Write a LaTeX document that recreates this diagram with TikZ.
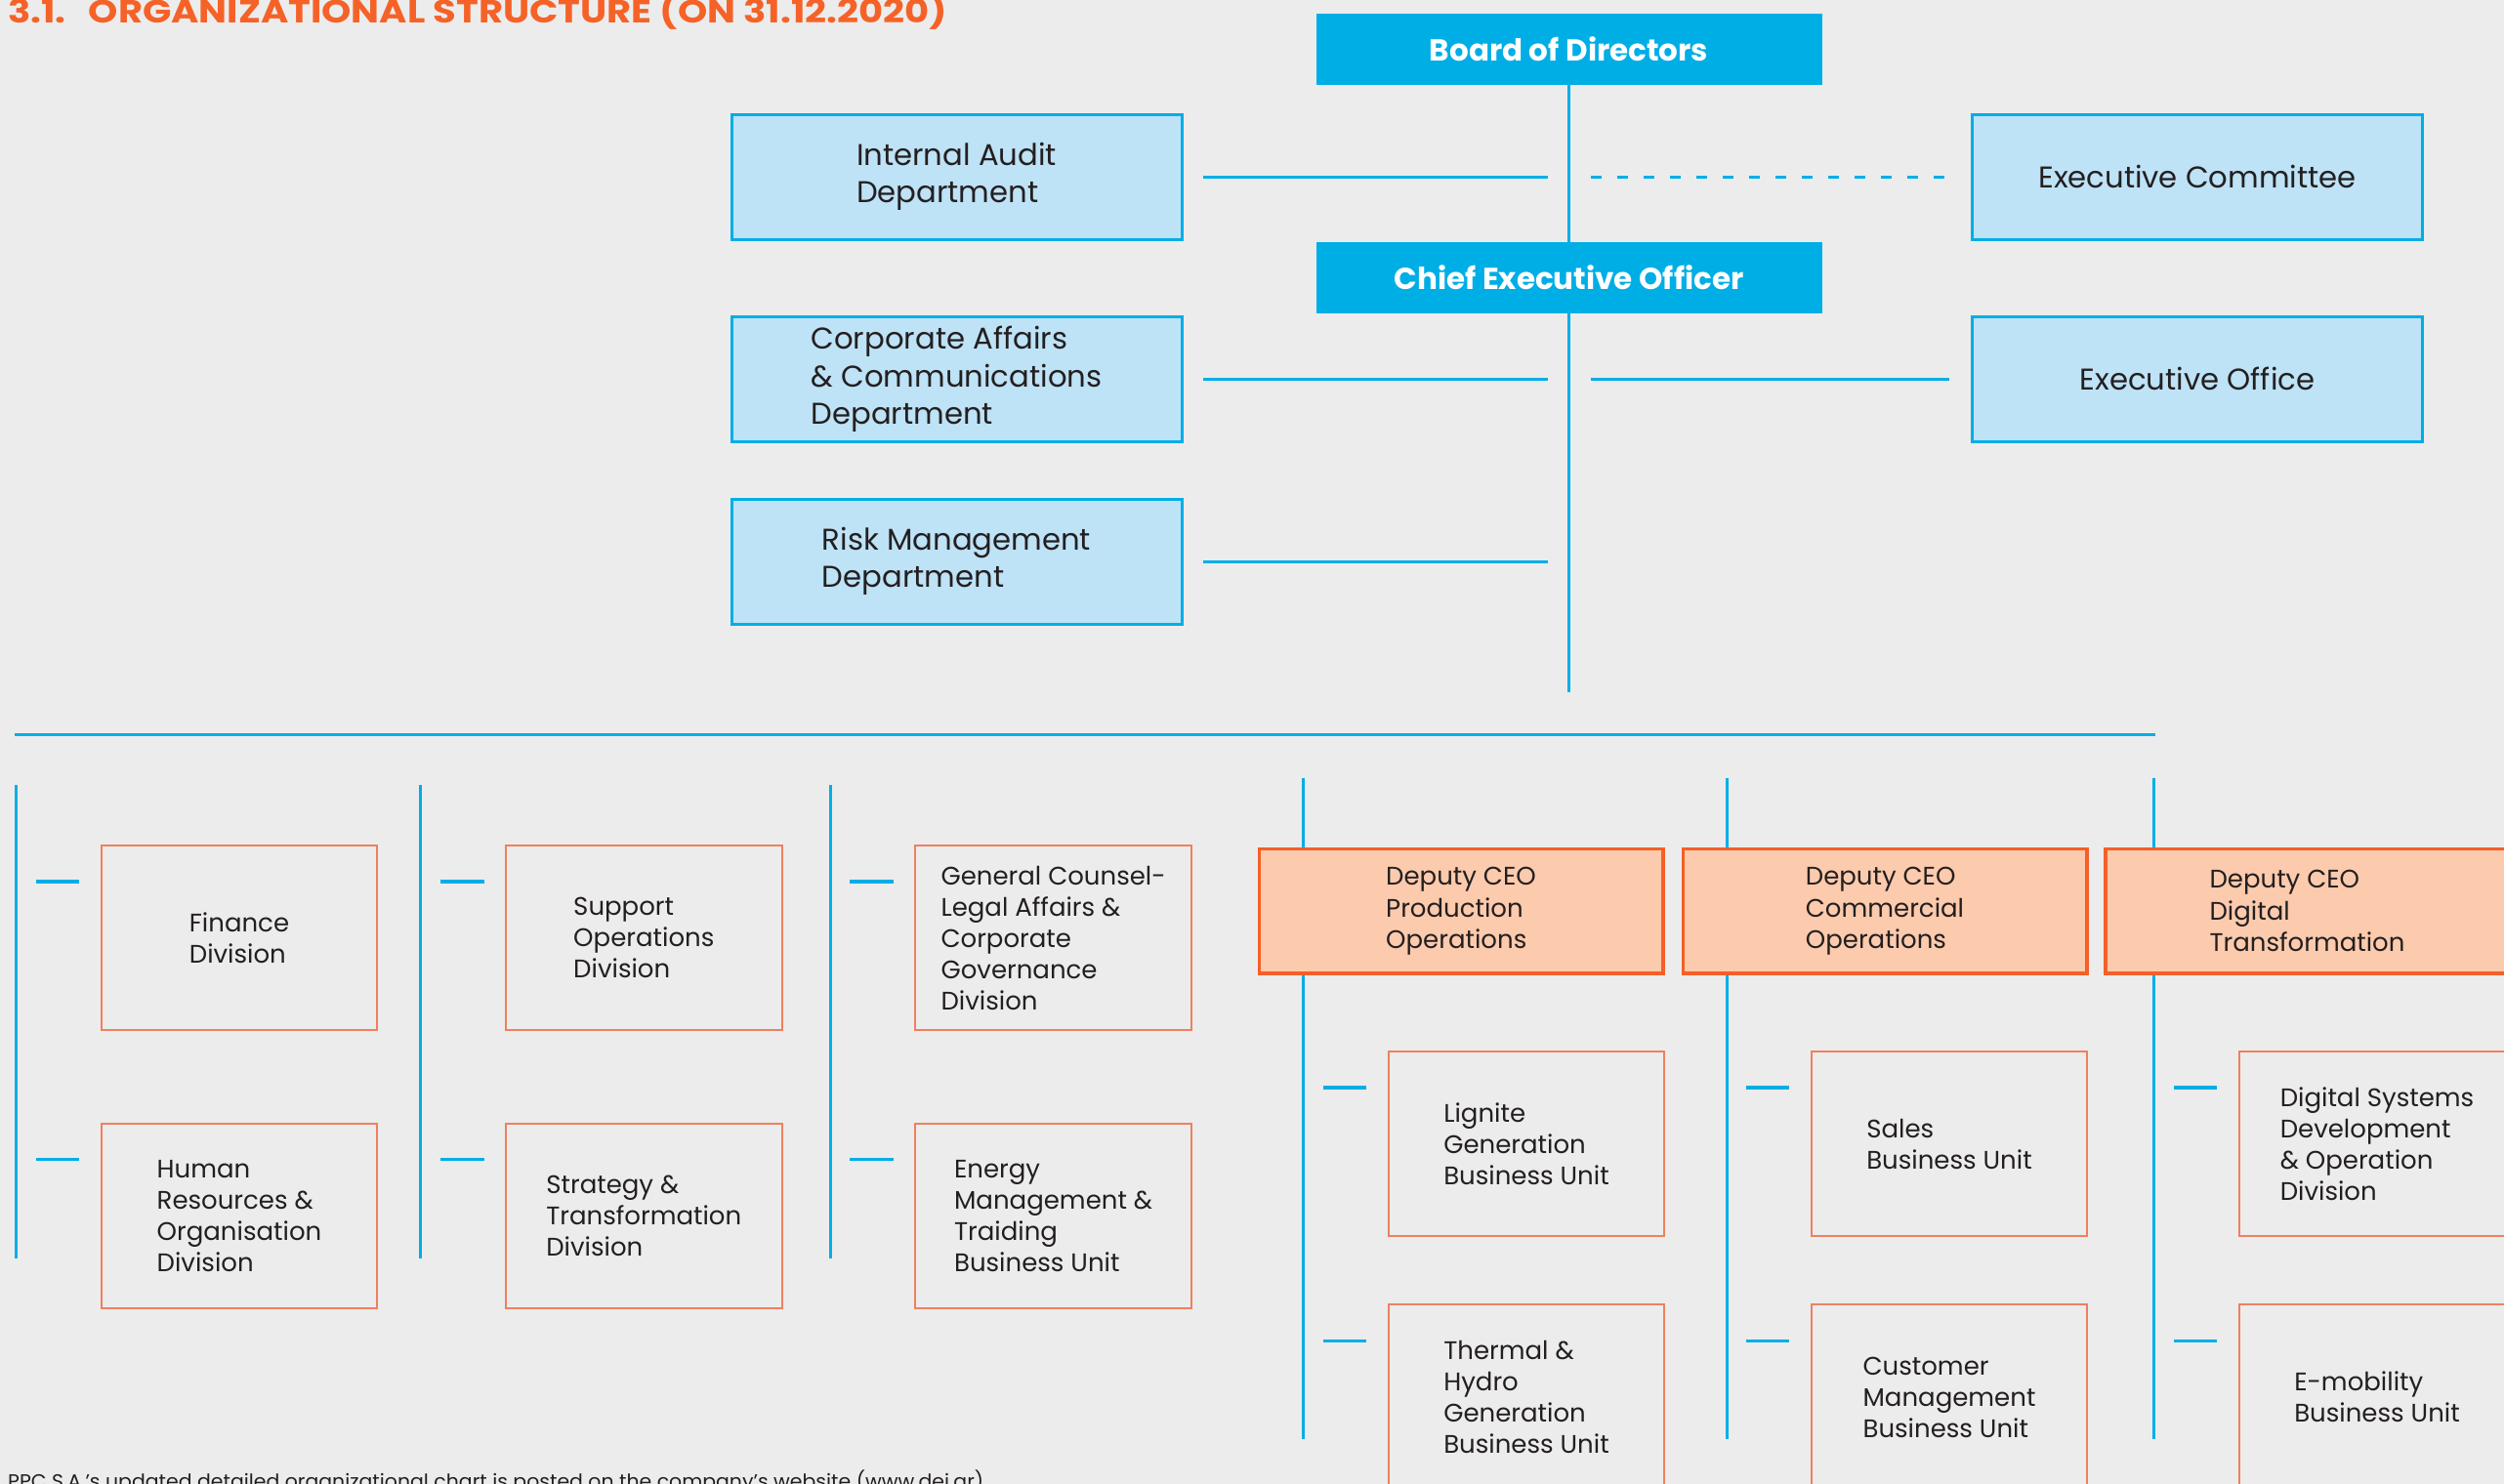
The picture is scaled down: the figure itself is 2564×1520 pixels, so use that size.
\documentclass[tikz,border=0pt]{standalone}
\usepackage{fontspec}
\setmainfont{Poppins}
\usepackage{graphicx}
\definecolor{bg}{RGB}{236,236,236}
\definecolor{cyanc}{RGB}{0,174,230}
\definecolor{lightblue}{RGB}{190,226,246}
\definecolor{txt}{RGB}{35,31,32}
\definecolor{unitorange}{RGB}{238,128,96}
\definecolor{deporange}{RGB}{245,95,40}
\definecolor{deppeach}{RGB}{252,202,172}
\definecolor{titleorange}{RGB}{245,98,40}
\begin{document}
\begin{tikzpicture}[x=1pt,y=-1pt,
  conn/.style={draw=cyanc, line width=3pt},
  tick/.style={draw=cyanc, line width=3.5pt},
  topbox/.style={fill=cyanc, text=white, minimum width=518pt, minimum height=72.7pt, inner sep=0pt,
    font=\fontsize{31}{38}\selectfont\bfseries},
  mgmt/.style={draw=cyanc, fill=lightblue, line width=3pt, minimum width=461pt, minimum height=128pt,
    inner sep=0pt, align=left, text=txt, font=\fontsize{30.7}{38.5}\selectfont},
  unit/.style={draw=unitorange, line width=2pt, minimum width=282.6pt, minimum height=189.5pt,
    inner sep=0pt, align=left, text=txt, font=\fontsize{26}{32}\selectfont},
  deputy/.style={draw=deporange, fill=deppeach, line width=3.5pt, minimum width=413.5pt, minimum height=127.5pt,
    inner sep=0pt, align=left, text=txt, font=\fontsize{26}{32.5}\selectfont}
]
\path[use as bounding box, fill=bg] (0,0) rectangle (2564,1520);

% title and footnote
\node[anchor=base west, inner sep=0pt, text=titleorange] (title) at (8,24)
  {\resizebox{962pt}{\height}{\fontsize{33}{34}\selectfont\bfseries 3.1.\hspace{0.6em}ORGANIZATIONAL STRUCTURE (ON 31.12.2020)}};
\node[anchor=base west, inner sep=0pt, text=txt] (note) at (8,1524)
  {\resizebox{999pt}{\height}{\fontsize{20}{24}\selectfont PPC S.A.'s updated detailed organizational chart is posted on the company's website (www.dei.gr)}};

% top management
\node[topbox] (board) at (1606.5,50.3) {Board of Directors};
\node[topbox] (ceo) at (1606.5,284.3) {Chief Executive Officer};
\node[mgmt] (ia) at (979.5,181) {Internal Audit\\Department};
\node[mgmt] (cad) at (979.5,388.5) {Corporate Affairs\\\& Communications\\Department};
\node[mgmt] (risk) at (979.5,575) {Risk Management\\Department};
\node[mgmt] (ec) at (2250,181) {Executive Committee};
\node[mgmt] (eo) at (2250,388) {Executive Office};

\coordinate (ceoend) at (1606.5,709);
\draw[conn] (board.south) -- (ceo.north);
\draw[conn] (ceo.south) -- (ceoend);
\draw[conn, shorten <=20pt, shorten >=22pt] (ia.east) -- (ia.east -| board.south);
\draw[conn, dash pattern=on 11pt off 16pt, shorten <=22pt, shorten >=27pt] (ec.west -| board.south) -- (ec.west);
\draw[conn, shorten <=20pt, shorten >=22pt] (cad.east) -- (cad.east -| board.south);
\draw[conn, shorten <=22pt, shorten >=22pt] (eo.west -| board.south) -- (eo.west);
\draw[conn, shorten <=20pt, shorten >=22pt] (risk.east) -- (risk.east -| board.south);

% long horizontal line
\coordinate (hl) at (15.3,752.7);
\coordinate (hr) at (2206.7,752.7);
\draw[conn] (hl) -- (hr);

% left columns
\coordinate (v1t) at (16,804);   \coordinate (v1b) at (16,1289);
\coordinate (v2t) at (430.5,804); \coordinate (v2b) at (430.5,1289);
\coordinate (v3t) at (850.6,804); \coordinate (v3b) at (850.6,1289);
\draw[conn] (v1t) -- (v1b);
\draw[conn] (v2t) -- (v2b);
\draw[conn] (v3t) -- (v3b);

\node[unit] (fin) at (245,960.5) {Finance\\Division};
\node[unit] (hr) at (245,1245.4) {Human\\Resources \&\\Organisation\\Division};
\node[unit] (sup) at (659.3,960.5) {Support\\Operations\\Division};
\node[unit] (str) at (659.3,1245.4) {Strategy \&\\Transformation\\Division};
\node[unit] (gc) at (1078.6,960.5) {General Counsel-\\Legal Affairs \&\\Corporate\\Governance\\Division};
\node[unit] (em) at (1078.6,1245.4) {Energy\\Management \&\\Traiding\\Business Unit};

% deputy CEO columns
\coordinate (vAt) at (1334,796.7);   \coordinate (vAb) at (1334,1473.7);
\coordinate (vBt) at (1768,796.7);   \coordinate (vBb) at (1768,1473.7);
\coordinate (vCt) at (2205.6,796.7); \coordinate (vCb) at (2205.6,1473.7);

\node[deputy] (d1) at (1496,933.4) {Deputy CEO\\Production\\Operations};
\node[deputy] (d2) at (1930,933.4) {Deputy CEO\\Commercial\\Operations};
\node[deputy] (d3) at (2362.5,933.4) {Deputy CEO\\Digital\\Transformation};

\draw[conn] (vAt) -- (vAt |- d1.north);
\draw[conn] (d1.south -| vAt) -- (vAb);
\draw[conn] (vBt) -- (vBt |- d2.north);
\draw[conn] (d2.south -| vBt) -- (vBb);
\draw[conn] (vCt) -- (vCt |- d3.north);
\draw[conn] (d3.south -| vCt) -- (vCb);

\node[unit] (lig) at (1563,1171.5) {Lignite\\Generation\\Business Unit};
\node[unit] (thh) at (1563,1431) {Thermal \&\\Hydro\\Generation\\Business Unit};
\node[unit] (sal) at (1996,1171.5) {Sales\\Business Unit};
\node[unit] (cus) at (1996,1431) {Customer\\Management\\Business Unit};
\node[unit] (dsd) at (2434,1171.5) {Digital Systems\\Development\\\& Operation\\Division};
\node[unit] (emo) at (2434,1431) {E-mobility\\Business Unit};

% ticks
\foreach \n in {fin,hr,sup,str,gc,em,lig,thh,sal,cus,dsd,emo}{
  \draw[tick] ([xshift=-66pt,yshift=-38pt]\n.north west) -- ++(44.6,0);
}
\end{tikzpicture}
\end{document}
